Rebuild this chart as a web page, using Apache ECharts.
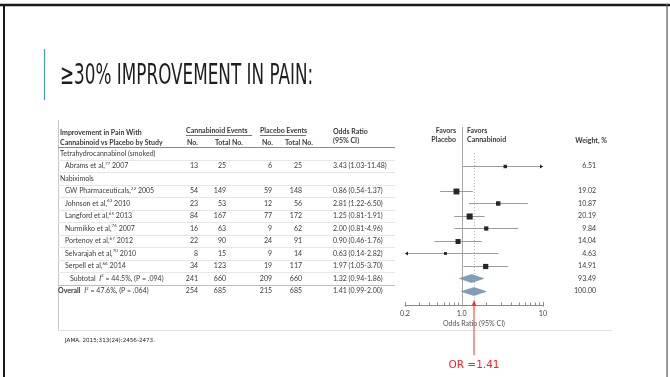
<!DOCTYPE html>
<html>
<head>
<meta charset="utf-8">
<script src="https://cdn.jsdelivr.net/npm/echarts@6/dist/echarts.min.js"></script>
<style>
  html, body { margin: 0; padding: 0; background: #fff; }
  #chart { width: 670px; height: 377px; }
</style>
</head>
<body>
<div id="chart"></div>
<script>
// ---- forest plot data: >=30% improvement in pain, cannabinoid vs placebo ----
const rowLabels = ['Tetrahydrocannabinol (smoked)', 'Abrams et al,', 'Nabiximols', 'GW Pharmaceuticals,',
  'Johnson et al,', 'Langford et al,', 'Nurmikko et al,', 'Portenoy et al,', 'Selvarajah et al,',
  'Serpell et al,', 'Subtotal', 'Overall'];
const rowKinds = ['group', 'study', 'group', 'study', 'study', 'study', 'study', 'study', 'study',
  'study', 'subtotal', 'overall'];
const refNumbers = ['', '77', '', '22', '63', '65', '76', '67', '70', '66', '', ''];
const studyYears = ['', '2007', '', '2005', '2010', '2013', '2007', '2012', '2010', '2014', '', ''];
const cannabinoidEvents = [null, 13, null, 54, 23, 84, 16, 22, 8, 34, 241, 254];
const cannabinoidTotal = [null, 25, null, 149, 53, 167, 63, 90, 15, 123, 660, 685];
const placeboEvents = [null, 6, null, 59, 12, 77, 9, 24, 9, 19, 209, 215];
const placeboTotal = [null, 25, null, 148, 56, 172, 62, 91, 14, 117, 660, 685];
const oddsRatio = [null, 3.43, null, 0.86, 2.81, 1.25, 2.00, 0.90, 0.63, 1.97, 1.32, 1.41];
const ciLow = [null, 1.03, null, 0.54, 1.22, 0.81, 0.81, 0.46, 0.14, 1.05, 0.94, 0.99];
const ciHigh = [null, 11.48, null, 1.37, 6.50, 1.91, 4.96, 1.76, 2.82, 3.70, 1.86, 2.00];
const weightPct = [null, 6.51, null, 19.02, 10.87, 20.19, 9.84, 14.04, 4.63, 14.91, 93.49, 100.00];
const iSquared = [null, null, null, null, null, null, null, null, null, null, '44.5%', '47.6%'];
const pValues = [null, null, null, null, null, null, null, null, null, null, '.094', '.064'];

// log axis ticks
const axisTicks = [0.2, 0.3, 0.4, 0.5, 0.6, 0.7, 0.8, 0.9, 1, 2, 3, 4, 5, 6, 7, 8, 9, 10];
const axisTickLabels = ['0.2', '1.0', '10'];
const axisLabelValues = [0.2, 1, 10];

// ---- layout / style ----
const AX_MIN = 0.2, AX_MAX = 10;
const Y_MIN = -0.5, Y_MAX = 12.14;
const FONT = 'Lato, "Liberation Sans", sans-serif';
const TXT = '#3a3a3a';
const FS = 7;
const COL = { cannNo: 198, cannTot: 226, plcNo: 272, plcTot: 302, or: 333, weight: 596 };

const chart = echarts.init(document.getElementById('chart'), null, { renderer: 'canvas' });

function txt(x, y, text, opts) {
  return {
    type: 'text', x: x, y: y, silent: true,
    style: Object.assign({
      text: text, fill: TXT, fontSize: FS, fontFamily: FONT,
      align: 'left', textAlign: 'left', verticalAlign: 'middle', textVerticalAlign: 'middle'
    }, opts || {})
  };
}
function alignR(o) { return Object.assign({ align: 'right', textAlign: 'right' }, o || {}); }
function alignC(o) { return Object.assign({ align: 'center', textAlign: 'center' }, o || {}); }

const richStyles = {
  n: { fontSize: FS, fontFamily: FONT, fill: TXT, lineHeight: 10 },
  b: { fontSize: FS, fontFamily: FONT, fill: TXT, fontWeight: 'bold', lineHeight: 10 },
  i: { fontSize: FS, fontFamily: FONT, fill: TXT, fontStyle: 'italic', lineHeight: 10 },
  s: { fontSize: 4.6, fontFamily: FONT, fill: TXT, lineHeight: 10, verticalAlign: 'top' }
};

// table text, one row per category
function renderTableRow(params, api) {
  const i = params.dataIndex;
  const y = api.coord([1, i])[1];
  const kind = rowKinds[i];
  const kids = [];
  let label;
  let lx;
  if (kind === 'group') { label = '{n|' + rowLabels[i] + '}'; lx = 60; }
  else if (kind === 'study') { label = '{n|' + rowLabels[i] + '}{s|' + refNumbers[i] + '}{n| ' + studyYears[i] + '}'; lx = 65; }
  else if (kind === 'subtotal') { label = '{n|' + rowLabels[i] + '  }{i|I}{s|2}{n| = ' + iSquared[i] + ', (P = ' + pValues[i] + ')}'; lx = 70; }
  else { label = '{b|' + rowLabels[i] + '}{n|  }{i|I}{s|2}{n| = ' + iSquared[i] + ', (P = ' + pValues[i] + ')}'; lx = 58; }
  kids.push(txt(lx, y, label, { rich: richStyles }));
  if (cannabinoidEvents[i] !== null) {
    kids.push(txt(COL.cannNo, y, String(cannabinoidEvents[i]), alignR()));
    kids.push(txt(COL.cannTot, y, String(cannabinoidTotal[i]), alignR()));
    kids.push(txt(COL.plcNo, y, String(placeboEvents[i]), alignR()));
    kids.push(txt(COL.plcTot, y, String(placeboTotal[i]), alignR()));
    kids.push(txt(COL.or, y, oddsRatio[i].toFixed(2) + ' (' + ciLow[i].toFixed(2) + '-' + ciHigh[i].toFixed(2) + ')'));
    kids.push(txt(COL.weight, y, weightPct[i].toFixed(2), alignR()));
  }
  // faint row rule beneath
  const yl = Math.round(y + 6.25) + 0.5;
  if (i < rowLabels.length - 1) {
    kids.push({ type: 'line', silent: true, shape: { x1: 58, y1: yl, x2: 395, y2: yl },
      style: { stroke: i === 10 ? '#bdbdbd' : '#e6e6e6', lineWidth: 1 } });
  }
  return { type: 'group', children: kids };
}

// confidence intervals, weighted squares and pooled diamonds
function renderEstimate(params, api) {
  const i = params.dataIndex;
  const kind = rowKinds[i];
  if (oddsRatio[i] === null) return { type: 'group', children: [] };
  const p = api.coord([oddsRatio[i], i]);
  const y = Math.round(p[1]) + 0.5;
  const lo = api.coord([Math.max(ciLow[i], AX_MIN), i]);
  const hi = api.coord([Math.min(ciHigh[i], AX_MAX), i]);
  const kids = [];
  if (kind === 'study') {
    kids.push({ type: 'line', silent: true, shape: { x1: lo[0], y1: y, x2: hi[0], y2: y },
      style: { stroke: '#9c9c9c', lineWidth: 1 } });
    if (ciHigh[i] > AX_MAX) {
      kids.push({ type: 'polygon', silent: true, shape: { points: [[hi[0] - 3, y - 2], [hi[0], y], [hi[0] - 3, y + 2]] },
        style: { fill: '#222' } });
    }
    if (ciLow[i] < AX_MIN) {
      kids.push({ type: 'polygon', silent: true, shape: { points: [[lo[0] + 3, y - 2], [lo[0], y], [lo[0] + 3, y + 2]] },
        style: { fill: '#222' } });
    }
    const s = 1.35 * Math.sqrt(weightPct[i]);
    kids.push({ type: 'rect', silent: true, shape: { x: p[0] - s / 2, y: y - s / 2, width: s, height: s },
      style: { fill: '#262626' } });
  } else {
    const h = 4;
    kids.push({ type: 'polygon', silent: true,
      shape: { points: [[lo[0], y], [p[0], y - h], [hi[0], y], [p[0], y + h]] },
      style: { fill: '#7f9fb4', stroke: '#6f8fa4', lineWidth: 0.6 } });
  }
  return { type: 'group', children: kids };
}

// axis ticks, tick labels, reference lines and the pooled-estimate pointer
function renderGuides(params, api) {
  const kids = [];
  const axisY = api.coord([1, Y_MAX])[1];
  const topY = api.coord([1, Y_MIN])[1];
  axisTicks.forEach(function (v) {
    const x = Math.round(api.coord([v, 0])[0]) + 0.5;
    const major = axisLabelValues.indexOf(v) >= 0;
    kids.push({ type: 'line', silent: true, shape: { x1: x, y1: axisY - (major ? 3 : 2.5), x2: x, y2: axisY + (major ? 1.5 : 0) },
      style: { stroke: '#8a8a8a', lineWidth: 1 } });
  });
  axisLabelValues.forEach(function (v, k) {
    const x = api.coord([v, 0])[0];
    kids.push(txt(x, axisY + 9, axisTickLabels[k], alignC({ fontSize: 7.2, fill: '#444' })));
  });
  const midX = (api.coord([AX_MIN, 0])[0] + api.coord([AX_MAX, 0])[0]) / 2;
  kids.push(txt(midX, axisY + 19, 'Odds Ratio (95% CI)', alignC({ fontSize: 7, fill: '#555' })));

  // line of no effect
  const x1 = Math.round(api.coord([1, 0])[0]) + 0.5;
  kids.push({ type: 'line', silent: true, shape: { x1: x1, y1: topY - 20, x2: x1, y2: axisY },
    style: { stroke: '#a8a8a8', lineWidth: 1 } });
  // pooled estimate, dotted
  const last = rowLabels.length - 1;
  const xo = Math.round(api.coord([oddsRatio[last], 0])[0]) + 0.5;
  kids.push({ type: 'line', silent: true, shape: { x1: xo, y1: topY + 6, x2: xo, y2: axisY - 4 },
    style: { stroke: '#b8b8b8', lineWidth: 1, lineDash: [1, 2] } });

  // red pointer to the overall odds ratio
  kids.push({ type: 'line', silent: true, shape: { x1: xo - 0.5, y1: axisY - 3, x2: xo - 0.5, y2: 355 },
    style: { stroke: '#ff2a2a', lineWidth: 1 } });
  kids.push({ type: 'polygon', silent: true,
    shape: { points: [[xo - 0.5, axisY - 5], [xo - 2.8, axisY + 1], [xo + 1.8, axisY + 1]] },
    style: { fill: '#ff2a2a' } });
  kids.push(txt(xo - 0.5, 365, 'OR =' + oddsRatio[last].toFixed(2),
    alignC({ fontSize: 10.5, fill: '#ff2020', fontFamily: '"DejaVu Sans", sans-serif' })));
  return { type: 'group', children: kids };
}

const rowData = rowLabels.map(function (_, i) { return [1, i]; });

const B = { fontWeight: 'bold' };
const headerGraphics = [
  // slide frame
  { type: 'line', shape: { x1: 0, y1: 5, x2: 670, y2: 5 }, style: { stroke: '#1a1a1a', lineWidth: 2.4 } },
  { type: 'line', shape: { x1: 4, y1: 4, x2: 4, y2: 377 }, style: { stroke: '#1a1a1a', lineWidth: 2 } },
  { type: 'line', shape: { x1: 667, y1: 4, x2: 667, y2: 377 }, style: { stroke: '#555', lineWidth: 1.2 } },
  // title accent bar + title
  { type: 'line', shape: { x1: 44.5, y1: 49, x2: 44.5, y2: 100 }, style: { stroke: '#3a9fd0', lineWidth: 1.2 } },
  { type: 'text', x: 60, y: 76, scaleX: 0.645,
    style: { text: '\u226530% IMPROVEMENT IN PAIN:', fill: '#1e1e1e', fontSize: 29,
      fontFamily: '"Liberation Sans Narrow", "DejaVu Sans Condensed", sans-serif',
      align: 'left', textAlign: 'left', verticalAlign: 'middle', textVerticalAlign: 'middle' } },
  // figure frame (left and bottom edges)
  { type: 'line', shape: { x1: 58.5, y1: 120, x2: 58.5, y2: 330 }, style: { stroke: '#c8c8c8', lineWidth: 1 } },
  { type: 'line', shape: { x1: 58, y1: 330.5, x2: 612, y2: 330.5 }, style: { stroke: '#e2e2e2', lineWidth: 1 } },
  // column headers
  txt(60, 132.5, 'Improvement in Pain With', B),
  txt(60, 142.5, 'Cannabinoid vs Placebo by Study', B),
  txt(186, 130.5, 'Cannabinoid Events', B),
  { type: 'line', shape: { x1: 186, y1: 135.5, x2: 252, y2: 135.5 }, style: { stroke: '#777', lineWidth: 1 } },
  txt(187, 142.5, 'No.', B),
  txt(215, 142.5, 'Total No.', B),
  txt(260, 130.5, 'Placebo Events', B),
  { type: 'line', shape: { x1: 260, y1: 135.5, x2: 306, y2: 135.5 }, style: { stroke: '#777', lineWidth: 1 } },
  txt(262, 142.5, 'No.', B),
  txt(285, 142.5, 'Total No.', B),
  txt(333, 132, 'Odds Ratio', B),
  txt(333, 141, '(95% CI)', B),
  { type: 'line', shape: { x1: 58, y1: 147.5, x2: 395, y2: 147.5 }, style: { stroke: '#8a8a8a', lineWidth: 1 } },
  txt(456, 131, 'Favors', alignR(B)),
  txt(456, 140, 'Placebo', alignR(B)),
  txt(467, 131, 'Favors', B),
  txt(467, 140, 'Cannabinoid', B),
  txt(607, 141, 'Weight, %', alignR(B)),
  // citation
  txt(65, 341, 'JAMA. 2015;313(24):2456-2473.', { fontSize: 5.6, fill: '#222', fontFamily: '"DejaVu Sans", sans-serif' })
];

chart.setOption({
  animation: false,
  backgroundColor: '#ffffff',
  grid: { left: 405, top: 147, width: 138, height: 158, containLabel: false, outerBoundsMode: 'none' },
  xAxis: {
    type: 'log', logBase: 10, min: AX_MIN, max: AX_MAX, position: 'bottom',
    axisLine: { show: true, onZero: false, lineStyle: { color: '#8a8a8a', width: 1 } },
    axisTick: { show: false }, axisLabel: { show: false }, splitLine: { show: false }, minorTick: { show: false }
  },
  yAxis: {
    type: 'value', inverse: true, min: Y_MIN, max: Y_MAX,
    show: false, splitLine: { show: false }
  },
  graphic: { elements: headerGraphics },
  series: [
    { type: 'custom', name: 'table', coordinateSystem: 'cartesian2d', clip: false, silent: true,
      data: rowData, encode: { x: 0, y: 1 }, renderItem: renderTableRow, z: 2 },
    { type: 'custom', name: 'guides', coordinateSystem: 'cartesian2d', clip: false, silent: true,
      data: [[1, 0]], encode: { x: 0, y: 1 }, renderItem: renderGuides, z: 3 },
    { type: 'custom', name: 'estimates', coordinateSystem: 'cartesian2d', clip: false, silent: true,
      data: rowData, encode: { x: 0, y: 1 }, renderItem: renderEstimate, z: 4 }
  ]
});
</script>
</body>
</html>
